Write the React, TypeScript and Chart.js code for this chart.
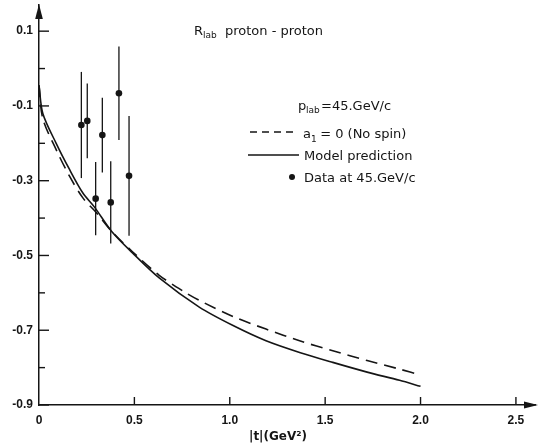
import React, { useEffect, useRef } from 'react';
import { Chart, registerables } from 'chart.js';

Chart.register(...registerables);

// Model prediction (solid)
const modelX = [0, 0.02, 0.09, 0.16, 0.23, 0.29, 0.38, 0.49, 0.63, 0.84, 1.02, 1.19, 1.37, 1.54, 1.72, 1.89, 2.0];
const modelY = [-0.045, -0.12, -0.2, -0.27, -0.333, -0.37, -0.435, -0.493, -0.56, -0.638, -0.688, -0.728, -0.76, -0.786, -0.812, -0.834, -0.85];

// a1 = 0 (No spin) (dashed)
const noSpinX = [0, 0.02, 0.09, 0.16, 0.23, 0.3, 0.38, 0.49, 0.63, 0.76, 0.84, 1.02, 1.19, 1.37, 1.54, 1.72, 1.89, 2.0];
const noSpinY = [-0.045, -0.134, -0.217, -0.288, -0.346, -0.385, -0.435, -0.49, -0.553, -0.597, -0.62, -0.664, -0.697, -0.729, -0.755, -0.781, -0.804, -0.82];

// Data at 45 GeV/c
const dataX = [0.222, 0.253, 0.297, 0.332, 0.376, 0.419, 0.472];
const dataY = [-0.151, -0.14, -0.348, -0.178, -0.358, -0.066, -0.287];
const dataErr = [0.142, 0.1, 0.098, 0.1, 0.11, 0.125, 0.16];

// Axis ticks
const xTickLabels = ['0', '0.5', '1.0', '1.5', '2.0', '2.5'];
const xTickValues = [0, 0.5, 1.0, 1.5, 2.0, 2.5];
const yTickValues = [-0.9, -0.8, -0.7, -0.6, -0.5, -0.4, -0.3, -0.2, -0.1, 0.0, 0.1];
const yTickLabels = ['-0.9', '-0.7', '-0.5', '-0.3', '-0.1', '0.1'];

const titleText = 'proton - proton';
const legendHeader = '=45.GeV/c';
const legendLabels = [' = 0 (No spin)', 'Model prediction', 'Data at 45.GeV/c'];
const xAxisTitle = '|t|(GeV\u00B2)';

const INK = '#151515';
const TEXT_FONT = '"DejaVu Sans", sans-serif';

const decorPlugin = {
  id: 'decor',
  afterDraw(chart: any) {
    const ctx = chart.ctx as CanvasRenderingContext2D;
    const xs = chart.scales.x;
    const ys = chart.scales.y;
    const area = chart.chartArea;
    const x0 = xs.getPixelForValue(0);
    const yb = ys.getPixelForValue(-0.9);
    ctx.save();
    ctx.strokeStyle = INK;
    ctx.fillStyle = INK;
    ctx.lineWidth = 1.4;
    ctx.setLineDash([]);

    // y ticks (inward)
    yTickValues.forEach((v) => {
      const py = ys.getPixelForValue(v);
      const major = Math.round(v * 10) % 2 !== 0;
      const len = major ? 10 : 6;
      ctx.beginPath();
      ctx.moveTo(x0, py);
      ctx.lineTo(x0 + len, py);
      ctx.stroke();
    });
    // x ticks (inward)
    xTickValues.forEach((v) => {
      if (v === 0) return;
      const px = xs.getPixelForValue(v);
      ctx.beginPath();
      ctx.moveTo(px, yb);
      ctx.lineTo(px, yb - 8);
      ctx.stroke();
    });

    // arrows
    ctx.beginPath();
    ctx.moveTo(x0, area.top - 1);
    ctx.lineTo(x0 - 3.8, area.top + 14);
    ctx.lineTo(x0 + 3.8, area.top + 14);
    ctx.closePath();
    ctx.fill();
    ctx.beginPath();
    ctx.moveTo(area.right + 3, yb);
    ctx.lineTo(area.right - 11, yb - 3.5);
    ctx.lineTo(area.right - 11, yb + 3.5);
    ctx.closePath();
    ctx.fill();

    // error bars
    ctx.lineWidth = 1.3;
    dataX.forEach((x, i) => {
      const px = xs.getPixelForValue(x);
      const t = ys.getPixelForValue(dataY[i] + dataErr[i]);
      const b = ys.getPixelForValue(dataY[i] - dataErr[i]);
      ctx.beginPath();
      ctx.moveTo(px, t);
      ctx.lineTo(px, b);
      ctx.stroke();
    });

    // title
    ctx.textBaseline = 'alphabetic';
    ctx.textAlign = 'left';
    ctx.font = `13px ${TEXT_FONT}`;
    ctx.fillText('R', 194, 35);
    ctx.font = `9px ${TEXT_FONT}`;
    ctx.fillText('lab', 203, 38);
    ctx.font = `13px ${TEXT_FONT}`;
    ctx.fillText(titleText, 225, 35);

    // legend header
    ctx.font = `13px ${TEXT_FONT}`;
    ctx.fillText('p', 298, 110);
    ctx.font = `9px ${TEXT_FONT}`;
    ctx.fillText('lab', 306, 113);
    ctx.font = `13px ${TEXT_FONT}`;
    ctx.fillText(legendHeader, 321, 110);

    // dashed sample
    ctx.lineWidth = 1.5;
    ctx.setLineDash([7, 5]);
    ctx.beginPath();
    ctx.moveTo(250, 132);
    ctx.lineTo(298, 132);
    ctx.stroke();
    ctx.setLineDash([]);
    ctx.font = `13px ${TEXT_FONT}`;
    ctx.fillText('a', 303, 138);
    ctx.font = `9px ${TEXT_FONT}`;
    ctx.fillText('1', 311, 142);
    ctx.font = `13px ${TEXT_FONT}`;
    ctx.fillText(legendLabels[0], 316, 138);

    // solid sample
    ctx.beginPath();
    ctx.moveTo(248, 155);
    ctx.lineTo(299, 155);
    ctx.stroke();
    ctx.fillText(legendLabels[1], 304, 160);

    // dot sample
    ctx.beginPath();
    ctx.arc(292, 177, 3, 0, Math.PI * 2);
    ctx.fill();
    ctx.fillText(legendLabels[2], 304, 182);

    // x axis title
    ctx.font = `bold 12px ${TEXT_FONT}`;
    ctx.textAlign = 'center';
    ctx.fillText(xAxisTitle, 278, 440);

    ctx.restore();
  },
};

export default function App() {
  const canvasRef = useRef<HTMLCanvasElement | null>(null);

  useEffect(() => {
    document.body.style.margin = '0';
    const canvas = canvasRef.current;
    if (!canvas) return;
    const toPts = (xs: number[], ys: number[]) => xs.map((x, i) => ({ x, y: ys[i] }));
    const chart = new Chart(canvas, {
      type: 'scatter',
      data: {
        datasets: [
          {
            label: 'Model prediction',
            data: toPts(modelX, modelY),
            showLine: true,
            borderColor: INK,
            borderWidth: 1.6,
            pointRadius: 0,
            tension: 0.3,
          } as any,
          {
            label: 'a1 = 0 (No spin)',
            data: toPts(noSpinX, noSpinY),
            showLine: true,
            borderColor: INK,
            borderWidth: 1.6,
            borderDash: [12, 7],
            pointRadius: 0,
            tension: 0.3,
          } as any,
          {
            label: 'Data at 45.GeV/c',
            data: toPts(dataX, dataY),
            showLine: false,
            backgroundColor: INK,
            borderColor: INK,
            pointRadius: 3.3,
            pointBorderWidth: 0,
          } as any,
        ],
      },
      options: {
        responsive: false,
        animation: false,
        layout: { padding: { top: 5, right: 4, left: 0, bottom: 0 } },
        plugins: { legend: { display: false }, tooltip: { enabled: false }, title: { display: false } },
        scales: {
          x: {
            type: 'linear',
            min: 0,
            max: 2.6,
            grid: { display: false, drawTicks: false },
            border: { display: true, color: INK, width: 1.5 },
            ticks: {
              stepSize: 0.5,
              includeBounds: false,
              padding: 8,
              color: INK,
              font: { family: '"Liberation Sans", Arial, sans-serif', size: 12, weight: 'bold' },
              maxRotation: 0,
              autoSkip: false,
              callback: (v: any) => {
                const idx = xTickValues.findIndex((t) => Math.abs(t - Number(v)) < 1e-6);
                return idx >= 0 ? xTickLabels[idx] : '';
              },
            },
            afterFit: (s: any) => {
              s.height = 43;
              s.paddingLeft = 0;
              s.paddingRight = 0;
            },
          },
          y: {
            type: 'linear',
            min: -0.9,
            max: 0.17,
            grid: { display: false, drawTicks: false },
            border: { display: true, color: INK, width: 1.5 },
            ticks: {
              stepSize: 0.1,
              includeBounds: false,
              padding: 6,
              color: INK,
              font: { family: '"Liberation Sans", Arial, sans-serif', size: 12, weight: 'bold' },
              autoSkip: false,
              callback: (v: any) => {
                const s = (Math.round(Number(v) * 10) / 10).toFixed(1);
                return yTickLabels.includes(s) ? s : '';
              },
            },
            afterFit: (s: any) => {
              s.width = 39;
              s.paddingTop = 0;
              s.paddingBottom = 0;
            },
          },
        },
      } as any,
      plugins: [decorPlugin],
    });
    return () => chart.destroy();
  }, []);

  return (
    <div style={{ position: 'fixed', left: 0, top: 0, width: 539, height: 448, background: '#fff' }}>
      <canvas ref={canvasRef} width={539} height={448} style={{ width: 539, height: 448 }} />
    </div>
  );
}
